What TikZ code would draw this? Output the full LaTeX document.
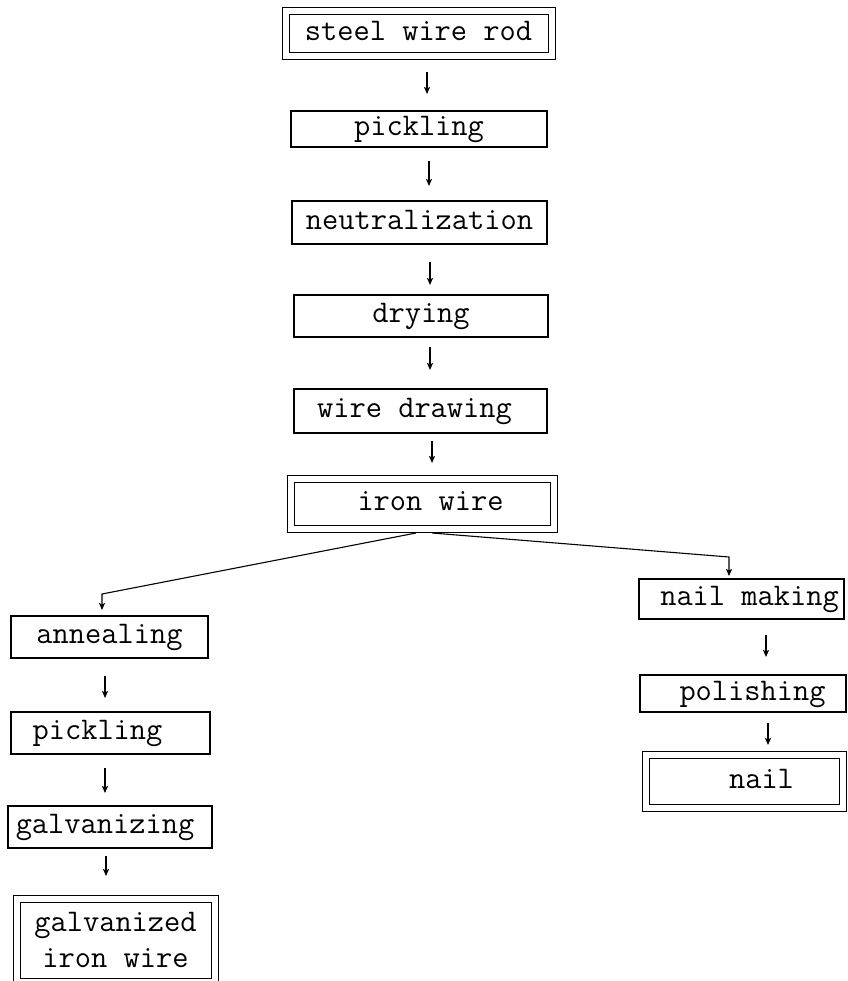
\documentclass[tikz,border=0pt]{standalone}
\usetikzlibrary{arrows.meta}
\begin{document}
\begin{tikzpicture}[x=1pt,y=-1pt,
  box/.style={draw, line width=1.1pt, inner sep=0pt, outer sep=0pt,
    font=\ttfamily\fontsize{31.5}{36}\selectfont,
    text height=22pt, text depth=8.4pt},
  dbox/.style={box, line width=1pt, double, double distance=6pt},
  flow/.style={line width=1.3pt, -{Stealth[length=7pt,width=6pt,inset=1.5pt]}},
  branch/.style={line width=1.1pt, -{Stealth[length=7pt,width=6pt,inset=1.5pt]}}]
\useasboundingbox (0,0) rectangle (847,981);

% main line: wire rod to iron wire
\node[dbox, minimum width=266pt, minimum height=45.5pt] (swr) at (418.5,33.75) {steel wire rod};
\node[box, minimum width=256pt, minimum height=36pt] (pick1) at (419,129) {pickling};
\node[box, minimum width=255pt, minimum height=43pt] (neut) at (419.5,222.5) {neutralization};
\node[box, minimum width=254pt, minimum height=42pt] (dry) at (421,316) {drying};
\node[box, minimum width=253pt, minimum height=44pt] (wd) at (420.5,411) {wire drawing\hspace*{12pt}};
\node[dbox, minimum width=263pt, minimum height=50pt] (iron) at (422.5,504) {\hspace*{16pt}iron wire};

% left branch: galvanized wire
\node[box, minimum width=197pt, minimum height=42pt] (anneal) at (109.5,637) {annealing};
\node[box, minimum width=199pt, minimum height=42pt] (pick2) at (110.5,733) {pickling\hspace*{26pt}};
\node[box, minimum width=204pt, minimum height=42pt] (galv) at (110,827) {galvanizing\hspace*{10pt}};
\node[dbox, minimum width=198pt, minimum height=83pt, align=center,
  text height=, text depth=] (giw) at (115.5,940) {galvanized\\iron wire};

% right branch: nails
\node[box, minimum width=205pt, minimum height=40pt] (nmk) at (741.5,599) {\hspace*{16pt}nail making};
\node[box, minimum width=206pt, minimum height=37pt] (pol) at (743,693.5) {\hspace*{19pt}polishing};
\node[dbox, minimum width=197pt, minimum height=53pt] (nail) at (744.5,781.5) {\hspace*{34pt}nail};

% step arrows
\draw[flow, shorten <=15.5pt, shorten >=17pt] ([xshift=8.5pt]swr.south) -- ([xshift=8.5pt]swr.south |- pick1.north);
\draw[flow, shorten <=14pt, shorten >=15pt] ([xshift=10pt]pick1.south) -- ([xshift=10pt]pick1.south |- neut.north);
\draw[flow, shorten <=18pt, shorten >=10pt] ([xshift=10.5pt]neut.south) -- ([xshift=10.5pt]neut.south |- dry.north);
\draw[flow, shorten <=10pt, shorten >=19pt] ([xshift=9pt]dry.south) -- ([xshift=9pt]dry.south |- wd.north);
\draw[flow, shorten <=8pt, shorten >=16pt] ([xshift=11.5pt]wd.south) -- ([xshift=11.5pt]wd.south |- iron.north);

\draw[flow, shorten <=18pt, shorten >=14pt] ([xshift=-4.5pt]anneal.south) -- ([xshift=-4.5pt]anneal.south |- pick2.north);
\draw[flow, shorten <=14pt, shorten >=13pt] ([xshift=-5.5pt]pick2.south) -- ([xshift=-5.5pt]pick2.south |- galv.north);
\draw[flow, shorten <=8pt, shorten >=22.5pt] ([xshift=-4pt]galv.south) -- ([xshift=-4pt]galv.south |- giw.north);

\draw[flow, shorten <=16pt, shorten >=18pt] ([xshift=24.5pt]nmk.south) -- ([xshift=24.5pt]nmk.south |- pol.north);
\draw[flow, shorten <=11pt, shorten >=10pt] ([xshift=25pt]pol.south) -- ([xshift=25pt]pol.south |- nail.north);

% branching from iron wire
\coordinate (lbend) at (102,594);
\coordinate (rbend) at (729,557);
\draw[branch, shorten >=6pt] ([xshift=-6.5pt,yshift=-4pt]iron.south) -- (lbend) -- (lbend |- anneal.north);
\draw[branch, shorten >=3pt] ([xshift=9.5pt,yshift=-4pt]iron.south) -- (rbend) -- (rbend |- nmk.north);
\end{tikzpicture}
\end{document}
